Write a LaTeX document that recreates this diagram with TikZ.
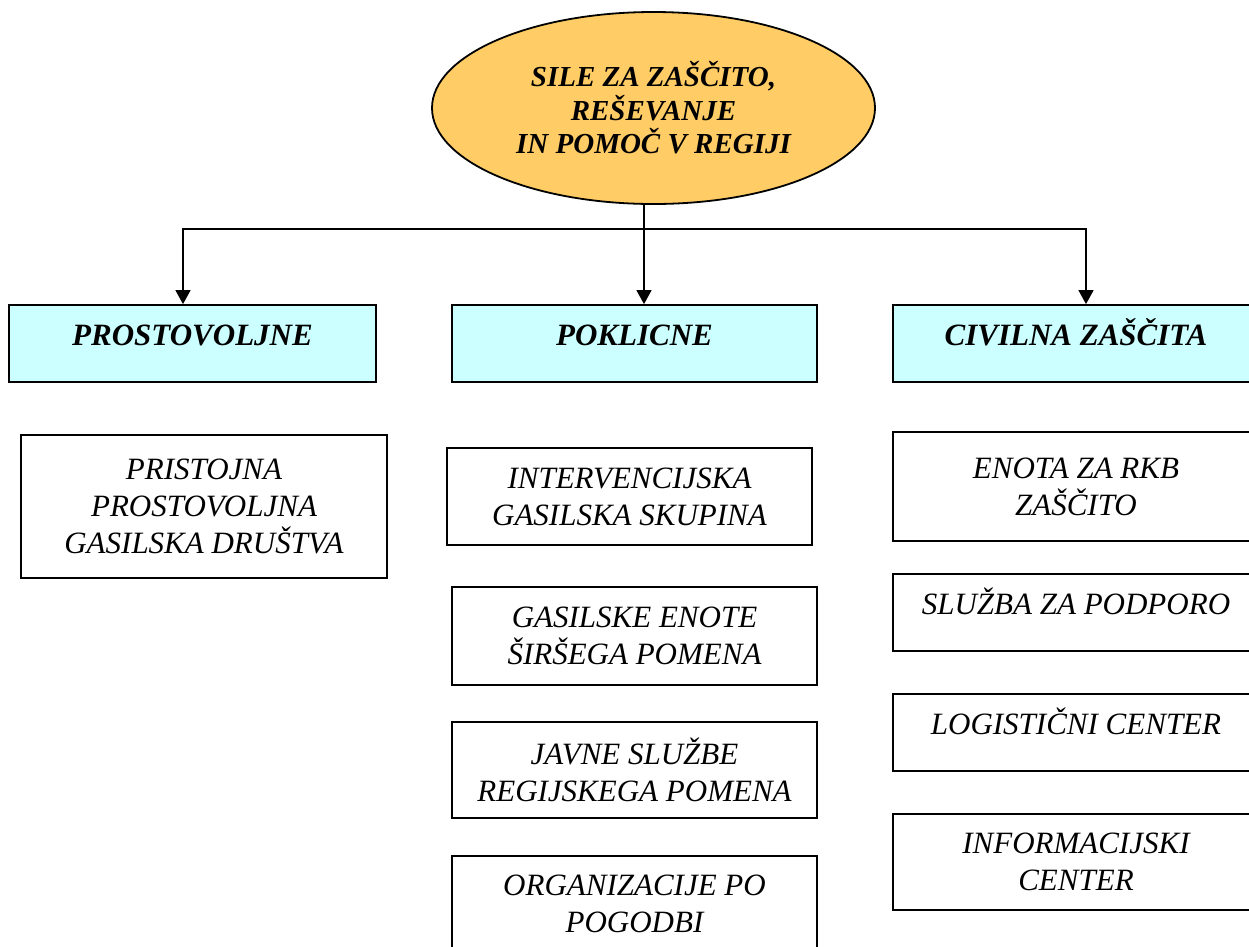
\documentclass[tikz,border=0pt]{standalone}
\usepackage{fontspec}
\setmainfont{Liberation Serif}
\usetikzlibrary{arrows.meta,shapes.geometric}
\definecolor{rootfill}{HTML}{FFCC66}
\definecolor{headfill}{HTML}{CCFFFF}
\tikzset{
  frame/.style={draw=black, line width=1.8pt, inner sep=0pt, align=center,
    font=\fontsize{31}{37}\selectfont\itshape},
  headbox/.style={frame, fill=headfill, font=\fontsize{31}{37}\selectfont\bfseries\itshape,
    text height=22pt, text depth=19pt},
  unitbox/.style={frame, fill=white},
  onerow/.style={text height=22pt, text depth=19pt},
  rootshape/.style={ellipse, draw=black, line width=1.8pt, fill=rootfill, inner sep=0pt,
    minimum width=443pt, minimum height=192pt, align=center,
    font=\fontsize{29}{33.5}\selectfont\bfseries\itshape},
  link/.style={line width=1.5pt, draw=black},
  arrowlink/.style={link, -{Triangle[length=14pt,width=15pt]}},
}
\begin{document}
\begin{tikzpicture}[x=1pt,y=-1pt]
\clip (0,0) rectangle (1249,946);
\fill[white] (0,0) rectangle (1249,946);

\node[rootshape] (root) at (653.5,108) {SILE ZA ZAŠČITO,\\REŠEVANJE\\IN POMOČ V REGIJI};

\node[headbox, minimum width=367pt, minimum height=77pt] (prost) at (192.5,343.5) {PROSTOVOLJNE};
\node[headbox, minimum width=365pt, minimum height=77pt] (pokl) at (634.5,343.5) {POKLICNE};
\node[headbox, minimum width=366pt, minimum height=77pt] (civ) at (1076,343.5) {CIVILNA ZAŠČITA};

\node[unitbox, minimum width=366pt, minimum height=143pt] (prist) at (204,506.5) {PRISTOJNA\\PROSTOVOLJNA\\GASILSKA DRUŠTVA};

\node[unitbox, minimum width=365pt, minimum height=97pt] (interv) at (629.5,496.5) {INTERVENCIJSKA\\GASILSKA SKUPINA};
\node[unitbox, minimum width=365pt, minimum height=98pt] (gasen) at (634.5,636) {GASILSKE ENOTE\\ŠIRŠEGA POMENA};
\node[unitbox, minimum width=365pt, minimum height=96pt] (javne) at (634.5,770) {JAVNE SLUŽBE\\REGIJSKEGA POMENA};
\node[unitbox, minimum width=365pt, minimum height=96pt] (organ) at (634.5,904) {ORGANIZACIJE PO\\POGODBI};

\node[unitbox, minimum width=366pt, minimum height=109pt] (enota) at (1076,486.5) {ENOTA ZA RKB\\ZAŠČITO};
\node[unitbox, onerow, minimum width=366pt, minimum height=77pt] (sluzba) at (1076,612.5) {SLUŽBA ZA PODPORO};
\node[unitbox, onerow, minimum width=366pt, minimum height=77pt] (logist) at (1076,732.5) {LOGISTIČNI CENTER};
\node[unitbox, minimum width=366pt, minimum height=96pt] (inform) at (1076,862) {INFORMACIJSKI\\CENTER};

\coordinate (hub) at (644,229);
\draw[link] (root.south -| hub) -- (hub);
\draw[arrowlink] (hub) -| ([xshift=-9.5pt]prost.north);
\draw[arrowlink] (hub) -- (hub |- pokl.north);
\draw[arrowlink] (hub) -| ([xshift=10pt]civ.north);
\end{tikzpicture}
\end{document}
